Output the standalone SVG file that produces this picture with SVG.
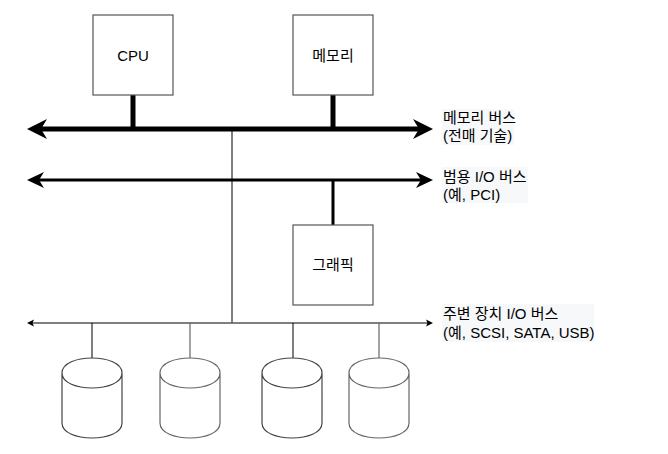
<svg xmlns="http://www.w3.org/2000/svg" width="668" height="454" viewBox="0 0 668 454">
<style>
.box{fill:#fff;stroke:#555;stroke-width:1.2}
.lbl{font-family:"Liberation Sans","Noto Sans CJK KR",Arial,sans-serif;font-size:15px;fill:#000}
.cyl{fill:#fff;stroke:#444;stroke-width:1.2}
.cyl2{fill:#fff;stroke:#666;stroke-width:1.2}
.hl{fill:#f7f8f9}
</style>
<rect width="668" height="454" fill="#fff"/>
<g id="connectors" fill="none">
  <line x1="40" y1="129" x2="420" y2="129" stroke="#000" stroke-width="5"/>
  <polygon points="27,129 47,119 41,129 47,139" fill="#000"/>
  <polygon points="433,129 413,119 419,129 413,139" fill="#000"/>
  <line x1="133" y1="95" x2="133" y2="129" stroke="#000" stroke-width="5"/>
  <line x1="333" y1="95" x2="333" y2="129" stroke="#000" stroke-width="5"/>
  <line x1="38" y1="180" x2="422" y2="180" stroke="#000" stroke-width="3"/>
  <polygon points="27,180 44,172 39,180 44,188" fill="#000"/>
  <polygon points="433,180 416,172 421,180 416,188" fill="#000"/>
  <line x1="333" y1="180" x2="333" y2="225" stroke="#000" stroke-width="3"/>
  <line x1="232" y1="129" x2="232" y2="323" stroke="#000" stroke-width="1"/>
  <line x1="32" y1="323" x2="428" y2="323" stroke="#555" stroke-width="1.5"/>
  <polygon points="27,323 34,319.5 32.5,323 34,326.5" fill="#000"/>
  <polygon points="433,323 426,319.5 427.5,323 426,326.5" fill="#000"/>
  <line x1="92" y1="323" x2="92" y2="358" stroke="#000" stroke-width="1"/>
  <line x1="190" y1="323" x2="190" y2="358" stroke="#666" stroke-width="1.2"/>
  <line x1="293" y1="323" x2="293" y2="358" stroke="#000" stroke-width="1"/>
  <line x1="379" y1="323" x2="379" y2="358" stroke="#666" stroke-width="1.2"/>
</g>
<g id="cpu">
  <rect class="box" x="93" y="15" width="80" height="80"/>
  <text class="lbl" x="133" y="61" text-anchor="middle">CPU</text>
</g>
<g id="memory">
  <rect class="box" x="293" y="15" width="80" height="80"/>
  <text class="lbl" x="333" y="61" text-anchor="middle">메모리</text>
</g>
<g id="graphics">
  <rect class="box" x="293" y="225" width="80" height="80"/>
  <text class="lbl" x="333" y="270" text-anchor="middle">그래픽</text>
</g>
<g id="disk1" transform="translate(62,358)">
  <path class="cyl" d="M0,15 C0,-5 60,-5 60,15 L60,65 C60,85 0,85 0,65 Z M0,15 C0,35 60,35 60,15"/>
</g>
<g id="disk2" transform="translate(160,358)">
  <path class="cyl2" d="M0,15 C0,-5 60,-5 60,15 L60,65 C60,85 0,85 0,65 Z M0,15 C0,35 60,35 60,15"/>
</g>
<g id="disk3" transform="translate(262,358)">
  <path class="cyl" d="M0,15 C0,-5 60,-5 60,15 L60,65 C60,85 0,85 0,65 Z M0,15 C0,35 60,35 60,15"/>
</g>
<g id="disk4" transform="translate(349,358)">
  <path class="cyl2" d="M0,15 C0,-5 60,-5 60,15 L60,65 C60,85 0,85 0,65 Z M0,15 C0,35 60,35 60,15"/>
</g>
<g id="label-memory-bus">
  <rect class="hl" x="442" y="109" width="72" height="36"/>
  <text class="lbl" x="443" y="123">메모리 버스</text>
  <text class="lbl" x="443" y="141">(전매 기술)</text>
</g>
<g id="label-io-bus">
  <rect class="hl" x="442" y="167" width="86" height="36"/>
  <text class="lbl" x="443" y="182">범용 I/O 버스</text>
  <text class="lbl" x="443" y="200">(예, PCI)</text>
</g>
<g id="label-peripheral-bus">
  <rect class="hl" x="442" y="304" width="152" height="38"/>
  <text class="lbl" x="443" y="319">주변 장치 I/O 버스</text>
  <text class="lbl" x="443" y="337.5">(예, SCSI, SATA, USB)</text>
</g>
</svg>
